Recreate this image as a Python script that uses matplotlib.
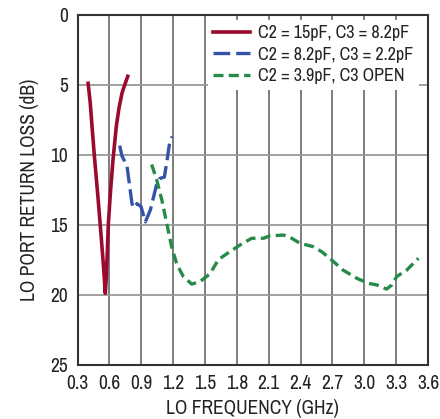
import matplotlib
matplotlib.use("Agg")
import matplotlib.pyplot as plt
from matplotlib import font_manager

names = {f.name for f in font_manager.fontManager.ttflist}
prefs = ['Liberation Sans Narrow', 'Archivo Narrow', 'Roboto Condensed', 'PT Sans Narrow',
         'Pragati Narrow', 'Fira Sans Condensed', 'IBM Plex Sans Condensed', 'Encode Sans Condensed',
         'Liberation Sans']
chosen = [f for f in prefs if f in names][:1]
plt.rcParams['font.family'] = chosen + ['DejaVu Sans']

# Data
red_x = [0.40, 0.42, 0.437, 0.46, 0.49, 0.515, 0.54, 0.553, 0.562, 0.570, 0.578, 0.59, 0.609, 0.635, 0.665, 0.69, 0.719, 0.745, 0.773]
red_y = [4.9, 6.3, 8.0, 10.2, 12.8, 15.1, 17.5, 18.9, 19.9, 18.9, 17.5, 15.0, 12.8, 10.3, 8.0, 6.7, 5.6, 5.0, 4.4]

blue_x = [0.697, 0.719, 0.766, 0.813, 0.829, 0.86, 0.898, 0.939, 0.986, 1.049, 1.074, 1.118, 1.143, 1.168, 1.19]
blue_y = [9.35, 10.1, 10.8, 13.5, 13.8, 13.5, 13.7, 14.8, 13.95, 12.0, 11.7, 11.6, 10.4, 9.1, 8.7]

green_x = [0.998, 1.046, 1.093, 1.14, 1.187, 1.234, 1.296, 1.375, 1.453, 1.548, 1.626, 1.72, 1.83,
           1.94, 2.05, 2.11, 2.24, 2.317, 2.395, 2.52, 2.6, 2.693, 2.80, 2.93, 3.04, 3.117, 3.21,
           3.26, 3.306, 3.4, 3.51]
green_y = [10.7, 11.8, 13.2, 14.9, 16.6, 17.8, 18.7, 19.24, 19.07, 18.5, 17.5, 17.0, 16.45,
           15.97, 15.97, 15.8, 15.74, 15.97, 16.33, 16.57, 16.93, 17.52, 18.24, 18.83, 19.19, 19.3, 19.6,
           19.3, 18.7, 18.24, 17.4]

labels = ['C2 = 15pF, C3 = 8.2pF', 'C2 = 8.2pF, C3 = 2.2pF', 'C2 = 3.9pF, C3 OPEN']
x_ticks = [0.3, 0.6, 0.9, 1.2, 1.5, 1.8, 2.1, 2.4, 2.7, 3.0, 3.3, 3.6]
y_ticks = [0, 5, 10, 15, 20, 25]

fig = plt.figure(figsize=(4.4, 4.19), dpi=100)
ax = fig.add_axes([77.5/440, 1-364.7/419, 350.5/440, 350/419])

ax.set_xlim(0.3, 3.6)
ax.set_ylim(25, 0)
ax.set_xticks(x_ticks)
ax.set_xticklabels([f"{t:.1f}" for t in x_ticks])
ax.set_yticks(y_ticks)
ax.grid(False)

# gridlines at tick positions
ax.vlines(x_ticks[1:-1], 0, 25, colors='#5a5a5a', linewidths=1.1, linestyles='solid',
          alpha=1, zorder=2)
ax.hlines(y_ticks[1:-1], 0.3, 3.6, colors='#9a9a9a', linewidths=1.3, linestyles='solid',
          alpha=1, zorder=2)
ax.set_xlim(0.3, 3.6)
ax.set_ylim(25, 0)

ax.plot(red_x, red_y, color='#9a0a2e', lw=2.6, label=labels[0], zorder=3)
ax.plot(blue_x, blue_y, color='#3452a8', lw=2.4, dashes=(5, 1.8), label=labels[1], zorder=3)
ax.plot(green_x, green_y, color='#268a48', lw=2.4, dashes=(3, 1.6), label=labels[2], zorder=3)

for s in ax.spines.values():
    s.set_color('#333333')
    s.set_linewidth(1.5)
    s.set_zorder(4)
ax.tick_params(length=0, labelsize=14, pad=7, colors='#222222')

ax.set_xlabel('LO FREQUENCY (GHz)', fontsize=14, color='#222222', labelpad=4)
ax.set_ylabel('LO PORT RETURN LOSS (dB)', fontsize=14, color='#222222', labelpad=8)

leg = ax.legend(loc='upper right', bbox_to_anchor=(0.974, 0.985), frameon=True, fancybox=False,
                facecolor='white', edgecolor='none', framealpha=1, fontsize=13,
                handlelength=2.05, handletextpad=0.45, labelspacing=0.3, borderpad=0.3,
                borderaxespad=0)
leg.set_zorder(5)
for t in leg.get_texts():
    t.set_color('#222222')

fig.savefig('out.png', dpi=100)
